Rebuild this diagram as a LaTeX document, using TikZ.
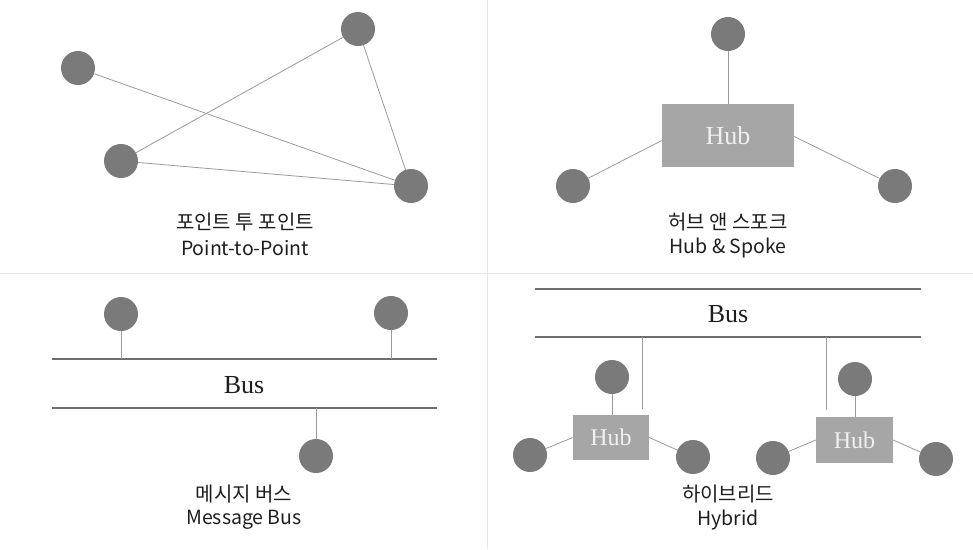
\documentclass[tikz,border=0pt]{standalone}
\usepackage{fontspec}
\newfontfamily\kr{Noto Sans CJK KR}
\newfontfamily\hubfont{Liberation Serif}
\definecolor{nodegray}{HTML}{7A7A7A}
\definecolor{hubgray}{HTML}{A6A6A6}
\definecolor{linegray}{HTML}{9A9A9A}
\definecolor{busgray}{HTML}{6E6E6E}
\definecolor{divgray}{HTML}{E6E6E6}
\definecolor{txt}{HTML}{1E1E1E}
\begin{document}
\begin{tikzpicture}[x=1pt,y=-1pt,
  dot/.style={circle,fill=nodegray,draw=none,minimum size=34pt,inner sep=0pt},
  hubbox/.style={fill=hubgray,draw=none,inner sep=0pt,text=white!94!black,font=\hubfont\fontsize{26}{28}\selectfont},
  smallhub/.style={hubbox,font=\hubfont\fontsize{24}{26}\selectfont},
  link/.style={draw=linegray,line width=0.8pt},
  busline/.style={draw=busgray,line width=1.1pt},
  ko/.style={font=\kr\fontsize{20}{22}\selectfont,text=txt,inner sep=0pt},
  en/.style={font=\kr\fontsize{19.5}{22}\selectfont,text=txt,inner sep=0pt},
  bustext/.style={font=\hubfont\fontsize{26}{28}\selectfont,text=txt,inner sep=0pt}]
\useasboundingbox (0,0) rectangle (973,549);
% dividers
\coordinate (v1) at (487,0); \coordinate (v2) at (487,549);
\coordinate (h1) at (0,273); \coordinate (h2) at (973,273);
\draw[divgray,line width=1pt] (v1) -- (v2);
\draw[divgray,line width=1pt] (h1) -- (h2);

% ---------- Point-to-Point ----------
\node[dot] (pa) at (78,68) {};
\node[dot] (pb) at (358,29) {};
\node[dot] (pc) at (121,161) {};
\node[dot] (pd) at (411,186) {};
\draw[link] (pa) -- (pd);
\draw[link] (pb) -- (pc);
\draw[link] (pb) -- (pd);
\draw[link] (pc) -- (pd);
\node[ko] (pt1) at (245,222) {포인트 투 포인트};
\node[en] (pt2) at (245,248) {Point-to-Point};

% ---------- Hub & Spoke ----------
\node[hubbox,minimum width=132pt,minimum height=63pt] (hub) at (728,135.5) {Hub};
\node[dot] (ht) at (728,34) {};
\node[dot] (hl) at (573,186) {};
\node[dot] (hr) at (895,186) {};
\draw[link] (ht) -- (hub);
\draw[link] ([yshift=-5pt]hub.west) -- (hl);
\draw[link] ([yshift=-1pt]hub.east) -- (hr);
\node[ko] (hs1) at (728,222) {허브 앤 스포크};
\node[en] (hs2) at (728,248) {Hub \& Spoke};

% ---------- Message Bus ----------
\coordinate (mb1l) at (52,359); \coordinate (mb1r) at (437,359);
\coordinate (mb2l) at (52,408); \coordinate (mb2r) at (437,408);
\draw[busline] (mb1l) -- (mb1r);
\draw[busline] (mb2l) -- (mb2r);
\node[bustext] (mbus) at (244,385) {Bus};
\node[dot] (m1) at (121,314) {};
\node[dot] (m2) at (391,313) {};
\node[dot] (m3) at (316,456) {};
\coordinate (m1b) at (121,359);
\coordinate (m2b) at (391,359);
\coordinate (m3b) at (316,408);
\draw[link] (m1) -- (m1b);
\draw[link] (m2) -- (m2b);
\draw[link] (m3) -- (m3b);
\node[ko] (mt1) at (244,494) {메시지 버스};
\node[en] (mt2) at (244,520) {Message Bus};

% ---------- Hybrid ----------
\coordinate (yb1l) at (535,289); \coordinate (yb1r) at (921,289);
\coordinate (yb2l) at (535,337); \coordinate (yb2r) at (921,337);
\draw[busline] (yb1l) -- (yb1r);
\draw[busline] (yb2l) -- (yb2r);
\node[bustext] (ybus) at (728,314) {Bus};
\coordinate (d1t) at (642,337); \coordinate (d1b) at (642,409);
\coordinate (d2t) at (826,337); \coordinate (d2b) at (826,410);
\draw[link] (d1t) -- (d1b);
\draw[link] (d2t) -- (d2b);
% hub 1
\node[smallhub,minimum width=76pt,minimum height=45pt] (hA) at (611,437.5) {Hub};
\node[dot] (hAt) at (612,377) {};
\node[dot] (hAl) at (530,455) {};
\node[dot] (hAr) at (693,457) {};
\draw[link] (hAt) -- (hAt |- hA.north);
\draw[link] (hA.west) -- (hAl);
\draw[link] (hA.east) -- (hAr);
% hub 2
\node[smallhub,minimum width=77pt,minimum height=46pt] (hB) at (854.5,440) {Hub};
\node[dot] (hBt) at (855,379) {};
\node[dot] (hBl) at (773,458) {};
\node[dot] (hBr) at (936,459) {};
\draw[link] (hBt) -- (hBt |- hB.north);
\draw[link] (hB.west) -- (hBl);
\draw[link] (hB.east) -- (hBr);
\node[ko] (yt1) at (728,494) {하이브리드};
\node[en] (yt2) at (728,520) {Hybrid};
\end{tikzpicture}
\end{document}
